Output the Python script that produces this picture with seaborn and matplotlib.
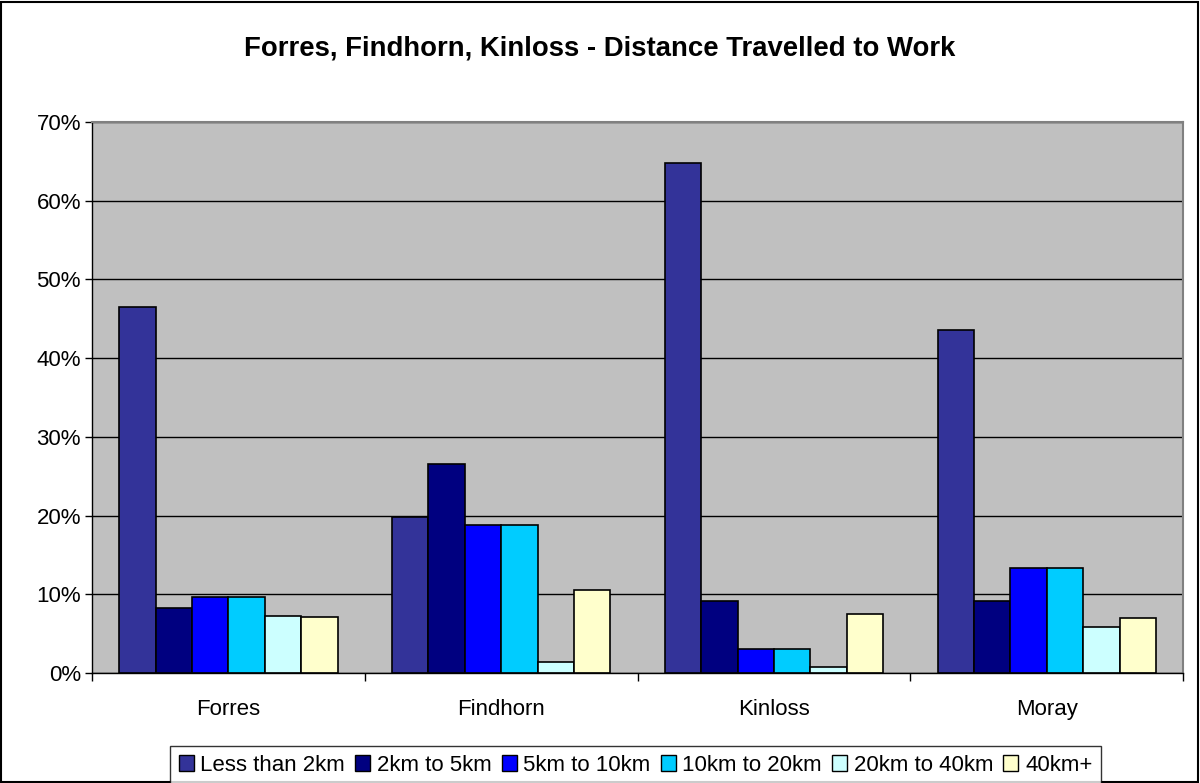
import numpy as np
import pandas as pd
import matplotlib
matplotlib.use("Agg")
import matplotlib.pyplot as plt
import seaborn as sns
from matplotlib.ticker import PercentFormatter, FixedLocator
from matplotlib.patches import Rectangle

# ------------------------------------------------------------------
# Data (% of workers)
# ------------------------------------------------------------------
areas = ["Forres", "Findhorn", "Kinloss", "Moray"]
bands = ["Less than 2km", "2km to 5km", "5km to 10km",
         "10km to 20km", "20km to 40km", "40km+"]

less_2km = [46.5, 19.8, 64.8, 43.6]
km_2_5 = [8.2, 26.5, 9.1, 9.1]
km_5_10 = [9.7, 18.8, 3.0, 13.3]
km_10_20 = [9.7, 18.8, 3.0, 13.3]
km_20_40 = [7.3, 1.4, 0.7, 5.9]
km_40_plus = [7.1, 10.6, 7.5, 7.0]

band_colors = ["#333399", "#000080", "#0000FF", "#00CCFF", "#CCFFFF", "#FFFFCC"]

df = pd.DataFrame({
    "Area": areas * len(bands),
    "Band": np.repeat(bands, len(areas)),
    "Share": less_2km + km_2_5 + km_5_10 + km_10_20 + km_20_40 + km_40_plus,
})

# ------------------------------------------------------------------
# Plot
# ------------------------------------------------------------------
sns.set_style("white")
plt.rcParams["font.family"] = ["Liberation Sans", "DejaVu Sans"]
plt.rcParams["text.color"] = "black"
plt.rcParams["xtick.color"] = "black"
plt.rcParams["ytick.color"] = "black"
plt.rcParams["xtick.labelcolor"] = "black"
plt.rcParams["ytick.labelcolor"] = "black"

fig = plt.figure(figsize=(12, 7.83), dpi=100)
ax = fig.add_axes([0.0767, 0.1405, 0.9093, 0.7037])
ax.set_facecolor("#C0C0C0")

sns.barplot(
    data=df, x="Area", y="Share", hue="Band",
    order=areas, hue_order=bands, palette=band_colors,
    width=0.8, edgecolor="black", linewidth=1.2,
    saturation=1, errorbar=None, ax=ax,
)

ax.set_ylim(0, 70)
ax.set_xlim(-0.5, 3.5)
ax.set_yticks(np.arange(0, 71, 10))
ax.yaxis.set_major_formatter(PercentFormatter(decimals=0))
ax.yaxis.grid(True, color="black", linewidth=1)
ax.set_axisbelow(True)

# Excel style category ticks between groups
ax.xaxis.set_minor_locator(FixedLocator(np.arange(-0.5, 4.0, 1.0)))
ax.tick_params(axis="x", which="major", length=0, pad=19, labelsize=16)
ax.tick_params(axis="x", which="minor", length=6, width=1, color="black",
               direction="out", bottom=True)
ax.tick_params(axis="y", which="major", length=5, width=1, color="black",
               direction="out", left=True, labelsize=16, pad=3)
ax.set_xlabel("")
ax.set_ylabel("")

for side in ["top", "right"]:
    ax.spines[side].set_color("#808080")
    ax.spines[side].set_linewidth(1.5)
for side in ["left", "bottom"]:
    ax.spines[side].set_color("black")
    ax.spines[side].set_linewidth(1)

fig.text(0.5, 0.938, "Forres, Findhorn, Kinloss - Distance Travelled to Work",
         ha="center", va="center", fontsize=19.8, fontweight="bold")

# legend below the plot
ax.legend_.remove()
handles = [Rectangle((0, 0), 1, 1, facecolor=c, edgecolor="black", linewidth=1)
           for c in band_colors]
leg = fig.legend(handles, bands, loc="upper center", ncol=6,
                 bbox_to_anchor=(0.5296, 0.0473), fontsize=16,
                 frameon=True, fancybox=False, handlelength=0.68,
                 handleheight=0.68, handletextpad=0.3, columnspacing=0.45,
                 borderpad=0.4, borderaxespad=0)
leg.get_frame().set_edgecolor("black")
leg.get_frame().set_linewidth(1)

# outer chart border
fig.patches.append(Rectangle((0.001, 0.001), 0.997, 0.997, transform=fig.transFigure,
                             fill=False, edgecolor="black", linewidth=1.5))

plt.savefig("out.png", dpi=100)
plt.close()
